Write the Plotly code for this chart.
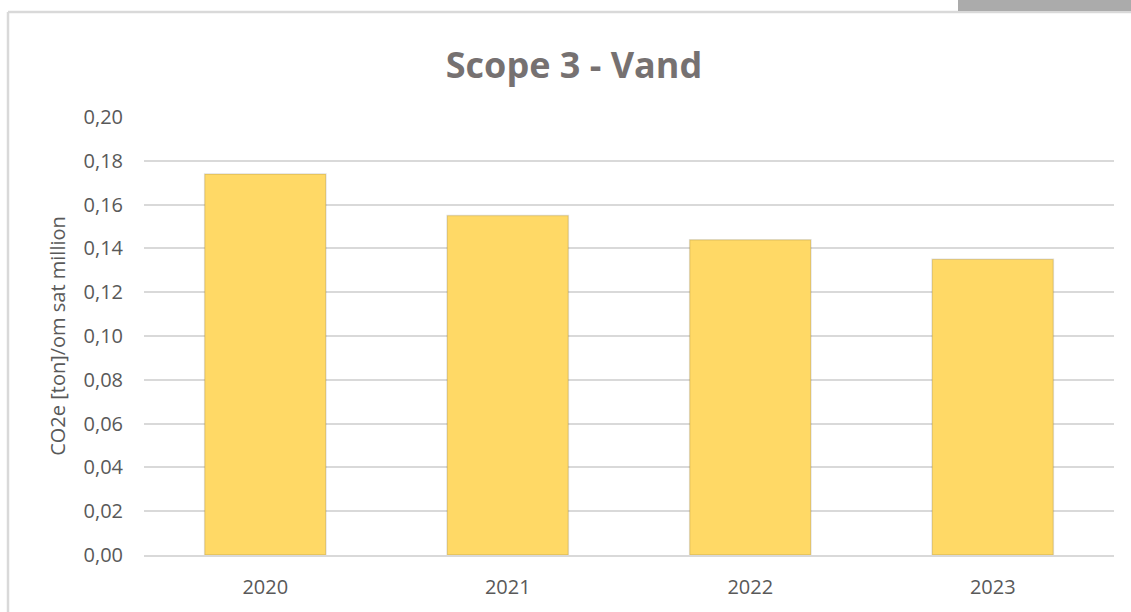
import plotly.graph_objects as go

years = ["2020", "2021", "2022", "2023"]
values = [0.174, 0.155, 0.144, 0.135]
y_ticks = [0.00, 0.02, 0.04, 0.06, 0.08, 0.10, 0.12, 0.14, 0.16, 0.18, 0.20]
y_tick_labels = [f"{v:.2f}".replace(".", ",") for v in y_ticks]

W, H = 1131, 612
L, R, T, B = 144, 17, 117, 57
pw, ph = W - L - R, H - T - B
FONT = "Open Sans, Lato, sans-serif"

def px_x(x):
    return (x - L) / pw

def px_y(y):
    return (H - B - y) / ph

fig = go.Figure()
fig.add_trace(go.Bar(
    x=years, y=values,
    marker=dict(color="#FFD966", line=dict(color="rgba(0,0,0,0.12)", width=1.5)),
    width=0.5,
    hoverinfo="x+y",
))

fig.update_layout(
    width=W, height=H,
    margin=dict(l=L, r=R, t=T, b=B),
    paper_bgcolor="white", plot_bgcolor="white",
    showlegend=False,
    title=dict(text="<b>Scope 3 - Vand</b>", xref="container", x=574 / W, xanchor="center",
               yref="container", y=1 - 65 / H, yanchor="middle",
               font=dict(family=FONT, size=36, color="#767171")),
    font=dict(family=FONT, color="#595959"),
    xaxis=dict(showgrid=False, showline=True, linecolor="#d9d9d9", linewidth=1.5,
               ticks="outside", ticklen=13, tickcolor="rgba(0,0,0,0)",
               tickfont=dict(size=20, color="#595959")),
    yaxis=dict(range=[0, 0.2], tickvals=y_ticks, ticktext=y_tick_labels,
               showgrid=True, gridcolor="#d9d9d9", gridwidth=1.5, zeroline=False,
               ticks="outside", ticklen=16, tickcolor="rgba(0,0,0,0)",
               tickfont=dict(size=20, color="#595959"),
               title=dict(text="CO2e [ton]/om sat million", standoff=12,
                          font=dict(size=20, color="#595959"))),
    bargap=0.5,
    shapes=[
        dict(type="line", xref="paper", yref="paper",
             x0=px_x(8), x1=px_x(8), y0=px_y(12), y1=px_y(640),
             line=dict(color="#d9d9d9", width=2.5)),
        dict(type="line", xref="paper", yref="paper",
             x0=px_x(8), x1=px_x(1140), y0=px_y(12), y1=px_y(12),
             line=dict(color="#d9d9d9", width=2.5)),
        dict(type="rect", xref="paper", yref="paper",
             x0=px_x(958), x1=px_x(1140), y0=px_y(-5), y1=px_y(11),
             fillcolor="#ababab", line=dict(width=0)),
    ],
)

fig.write_html("out.html", config={"displayModeBar": False},
               post_script="document.body.style.margin='0';document.body.style.overflow='hidden';")
